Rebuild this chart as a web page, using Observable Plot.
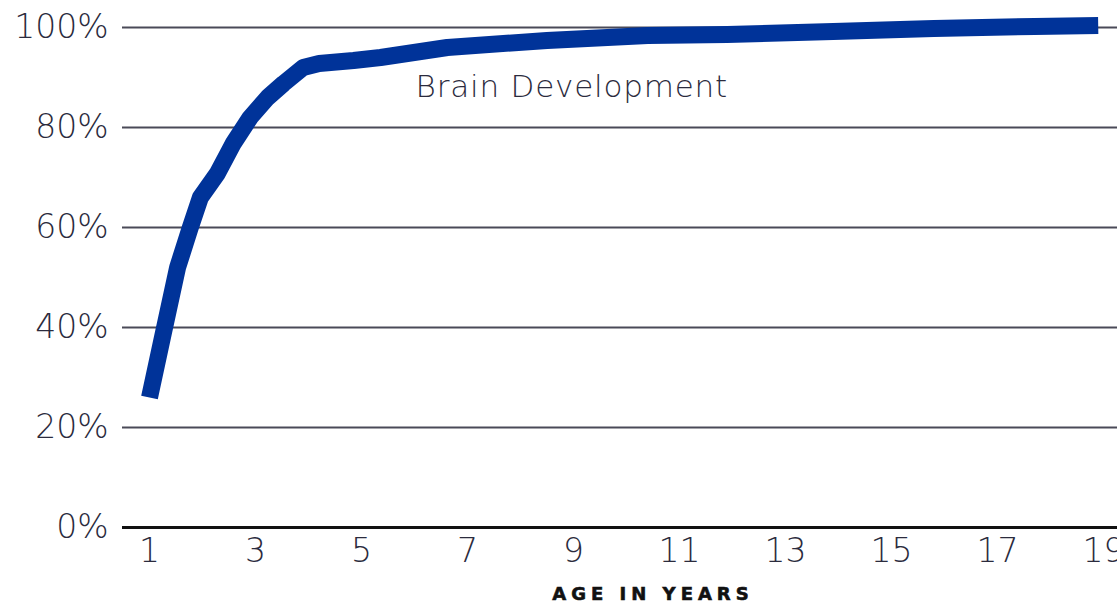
<!DOCTYPE html>
<html>
<head>
<meta charset="utf-8">
<script src="https://cdn.jsdelivr.net/npm/d3@7"></script>
<script src="https://cdn.jsdelivr.net/npm/@observablehq/plot@0.6"></script>
<style>
  html, body { margin: 0; padding: 0; background: #fff; }
  #chart svg { display: block; }
</style>
</head>
<body>
<div id="chart"></div>
<script>
// Ages (years) and brain development (% of adult)
const ages   = [1, 1.26, 1.53, 1.77, 1.96, 2.28, 2.58, 2.9, 3.23, 3.53, 3.9, 4.2, 4.85, 5.36, 6.62, 8.5, 10.4, 11.9, 13.9, 15.8, 17.7, 18.9];
const values = [26, 38.8, 52, 60, 66, 70.8, 76.8, 82, 86, 88.8, 92, 92.8, 93.4, 94, 96, 97.4, 98.4, 98.6, 99.2, 99.8, 100.2, 100.4];
const xTicks = [1, 3, 5, 7, 9, 11, 13, 15, 17, 19];
const yTicks = [0, 20, 40, 60, 80, 100];
const gridValues = [20, 40, 60, 80, 100];
const seriesLabel = "Brain Development";
const xTitle = "AGE IN YEARS";

const data = ages.map((a, i) => ({age: a, pct: values[i]}));

const font = "'DejaVu Sans', sans-serif";
const textColor = "#2b2b3d";

const chart = Plot.plot({
  width: 1117,
  height: 605,
  marginLeft: 122,
  marginRight: 0,
  marginTop: 27,
  marginBottom: 78,
  style: {fontFamily: font, background: "#fff"},
  x: {domain: [1, 19], range: [149, 1103]},
  y: {domain: [0, 100], range: [527, 27]},
  marks: [
    Plot.ruleY(gridValues, {stroke: "#4a4a58", strokeWidth: 2}),
    Plot.ruleY([0], {stroke: "#111", strokeWidth: 3}),
    Plot.axisX({ticks: xTicks, tickSize: 0, tickPadding: 11, label: null,
      fontSize: 33, fill: textColor, fontWeight: 300, tickFormat: d => String(d)}),
    Plot.axisY({ticks: yTicks, tickSize: 0, tickPadding: 14, label: null,
      fontSize: 33, fill: textColor, fontWeight: 300, tickFormat: d => d + "%"}),
    Plot.line(data, {x: "age", y: "pct", stroke: "#003399", strokeWidth: 17,
      strokeLinecap: "butt", strokeLinejoin: "round"}),
    Plot.text([seriesLabel], {x: 6.02, y: 88, text: d => d, textAnchor: "start",
      fontSize: 31, fill: textColor, fontWeight: 300, fontFamily: font}),
    Plot.text([xTitle], {frameAnchor: "bottom", text: d => d, dx: 33, dy: 72,
      fontSize: 18, fontWeight: 900, fill: "#111", fontFamily: font})
  ]
});
// letter spacing for the two free-standing labels
d3.select(chart).selectAll("text").each(function() {
  const t = this.textContent;
  if (t === xTitle) d3.select(this).style("letter-spacing", "5px").style("stroke", "#111").style("stroke-width", "0.6px");
  if (t === seriesLabel) d3.select(this).style("letter-spacing", "0.8px");
});
document.getElementById("chart").appendChild(chart);
</script>
</body>
</html>
